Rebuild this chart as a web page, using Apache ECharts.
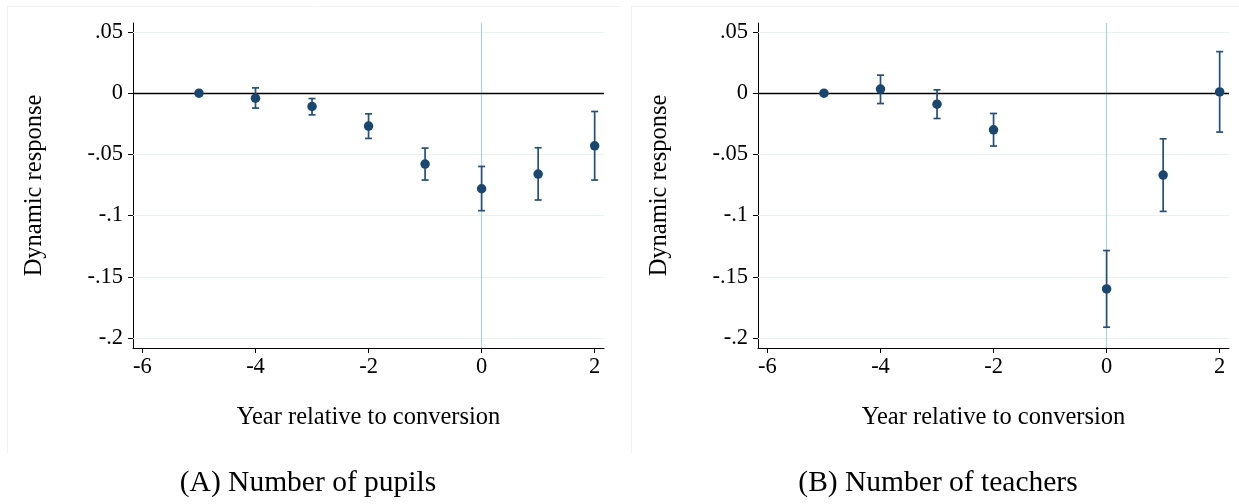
<!DOCTYPE html>
<html>
<head>
<meta charset="utf-8">
<script src="https://cdn.jsdelivr.net/npm/echarts@6/dist/echarts.min.js"></script>
<style>
html,body{margin:0;padding:0;background:#fff;}
#chart{width:1239px;height:504px;}
</style>
</head>
<body>
<div id="chart"></div>
<script>
// ---- data ----
var years = [-5, -4, -3, -2, -1, 0, 1, 2];
var pupilsCoef = [0, -0.0041, -0.0109, -0.0269, -0.0579, -0.0781, -0.0661, -0.0430];
var pupilsLo   = [0, -0.0122, -0.0177, -0.0370, -0.0710, -0.0960, -0.0873, -0.0710];
var pupilsHi   = [0,  0.0043, -0.0044, -0.0169, -0.0449, -0.0599, -0.0446, -0.0150];

var teachYears = [-5, -4, -3, -2, 0, 1, 2];
var teachCoef = [0,  0.0033, -0.0090, -0.0300, -0.1599, -0.0669, 0.0010];
var teachLo   = [0, -0.0085, -0.0207, -0.0432, -0.1912, -0.0966, -0.0318];
var teachHi   = [0,  0.0147,  0.0027, -0.0166, -0.1286, -0.0373, 0.0339];

var xTicks = [-6, -4, -2, 0, 2];
var yTicks = [0.05, 0, -0.05, -0.1, -0.15, -0.2];
var gridYs = [0.05, -0.05, -0.1, -0.15, -0.2];
var captions = ['(A) Number of pupils', '(B) Number of teachers'];
var xTitle = 'Year relative to conversion';
var yTitle = 'Dynamic response';

// ---- styling ----
var FONT = "'Liberation Serif','Times New Roman',serif";
var NAVY = '#1a476f';
var BAR = '#24507a';

function fmtY(v) {
  if (Math.abs(v) < 1e-9) return '0';
  var s = String(+v.toFixed(3));
  return s.replace('0.', '.');
}

function makeX(gi) {
  return {
    type: 'value', gridIndex: gi, min: -6.167, max: 2.165,
    name: xTitle, nameLocation: 'middle', nameGap: 57,
    nameTextStyle: {fontFamily: FONT, fontSize: 24.5, color: '#000'},
    axisLine: {show: true, onZero: false, lineStyle: {color: '#000', width: 1}},
    axisTick: {show: true, length: 5, customValues: xTicks, lineStyle: {color: '#000'}},
    axisLabel: {customValues: xTicks, fontFamily: FONT, fontSize: 22.5, color: '#000', margin: 8,
      formatter: function (v) { return String(v); }},
    splitLine: {show: false}
  };
}
function makeY(gi) {
  return {
    type: 'value', gridIndex: gi, min: -0.2082, max: 0.0573,
    name: yTitle, nameLocation: 'middle', nameGap: 86, nameRotate: 90,
    nameTextStyle: {fontFamily: FONT, fontSize: 24.5, color: '#000'},
    axisLine: {show: true, onZero: false, lineStyle: {color: '#000', width: 1}},
    axisTick: {show: true, length: 5, customValues: yTicks, lineStyle: {color: '#000'}},
    axisLabel: {customValues: yTicks, fontFamily: FONT, fontSize: 22.5, color: '#000', margin: 10,
      formatter: fmtY},
    splitLine: {show: false}
  };
}

function errSeries(gi, xs, lo, hi) {
  var data = xs.map(function (x, i) { return [x, lo[i], hi[i]]; }).filter(function (d) { return d[1] !== d[2]; });
  return {
    type: 'custom', xAxisIndex: gi, yAxisIndex: gi, z: 10,
    data: data,
    encode: {x: 0, y: [1, 2]},
    renderItem: function (params, api) {
      var x = api.value(0);
      var p1 = api.coord([x, api.value(1)]);
      var p2 = api.coord([x, api.value(2)]);
      var w = 3.5;
      var st = {stroke: BAR, lineWidth: 1.7};
      return {type: 'group', children: [
        {type: 'line', shape: {x1: p1[0], y1: p1[1], x2: p2[0], y2: p2[1]}, style: st},
        {type: 'line', shape: {x1: p1[0] - w, y1: p1[1], x2: p1[0] + w, y2: p1[1]}, style: st},
        {type: 'line', shape: {x1: p2[0] - w, y1: p2[1], x2: p2[0] + w, y2: p2[1]}, style: st}
      ]};
    }
  };
}

function refSeries(gi) {
  var lines = gridYs.map(function (v) { return {yAxis: v, lineStyle: {color: '#eaf1f2', width: 1.2, type: 'solid'}}; });
  lines.push({xAxis: 0, lineStyle: {color: '#a8d3e6', width: 1.2, type: 'solid'}});
  lines.push({yAxis: 0, lineStyle: {color: '#000', width: 1.3, type: 'solid'}});
  return {
    type: 'line', xAxisIndex: gi, yAxisIndex: gi, data: [], silent: true, z: 0,
    markLine: {silent: true, symbol: 'none', label: {show: false}, animation: false, data: lines}
  };
}

function pointSeries(gi, xs, ys) {
  return {
    type: 'scatter', xAxisIndex: gi, yAxisIndex: gi, z: 12,
    symbol: 'circle', symbolSize: 9.5,
    itemStyle: {color: NAVY, opacity: 1},
    data: xs.map(function (x, i) { return [x, ys[i]]; })
  };
}

var chart = echarts.init(document.getElementById('chart'), null, {renderer: 'canvas'});
var option = {
  animation: false,
  backgroundColor: '#fff',
  grid: [
    {left: 133, top: 23, width: 471, height: 325, containLabel: false},
    {left: 758, top: 23, width: 471, height: 325, containLabel: false}
  ],
  xAxis: [makeX(0), makeX(1)],
  yAxis: [makeY(0), makeY(1)],
  graphic: [
    {type: 'line', shape: {x1: 7, y1: 6.5, x2: 620, y2: 6.5}, style: {stroke: '#eef2f2', lineWidth: 1}},
    {type: 'line', shape: {x1: 7.5, y1: 6, x2: 7.5, y2: 453}, style: {stroke: '#eef2f2', lineWidth: 1}},
    {type: 'line', shape: {x1: 631, y1: 6.5, x2: 1239, y2: 6.5}, style: {stroke: '#eef2f2', lineWidth: 1}},
    {type: 'line', shape: {x1: 631.5, y1: 6, x2: 631.5, y2: 453}, style: {stroke: '#eef2f2', lineWidth: 1}},
    {type: 'text', x: 308, y: 483, style: {text: captions[0], font: '29.5px ' + FONT, fill: '#000', textAlign: 'center', textVerticalAlign: 'middle'}},
    {type: 'text', x: 938, y: 483, style: {text: captions[1], font: '29.5px ' + FONT, fill: '#000', textAlign: 'center', textVerticalAlign: 'middle'}}
  ],
  series: [
    refSeries(0), refSeries(1),
    errSeries(0, years, pupilsLo, pupilsHi),
    errSeries(1, teachYears, teachLo, teachHi),
    pointSeries(0, years, pupilsCoef),
    pointSeries(1, teachYears, teachCoef)
  ]
};
chart.setOption(option);
</script>
</body>
</html>
